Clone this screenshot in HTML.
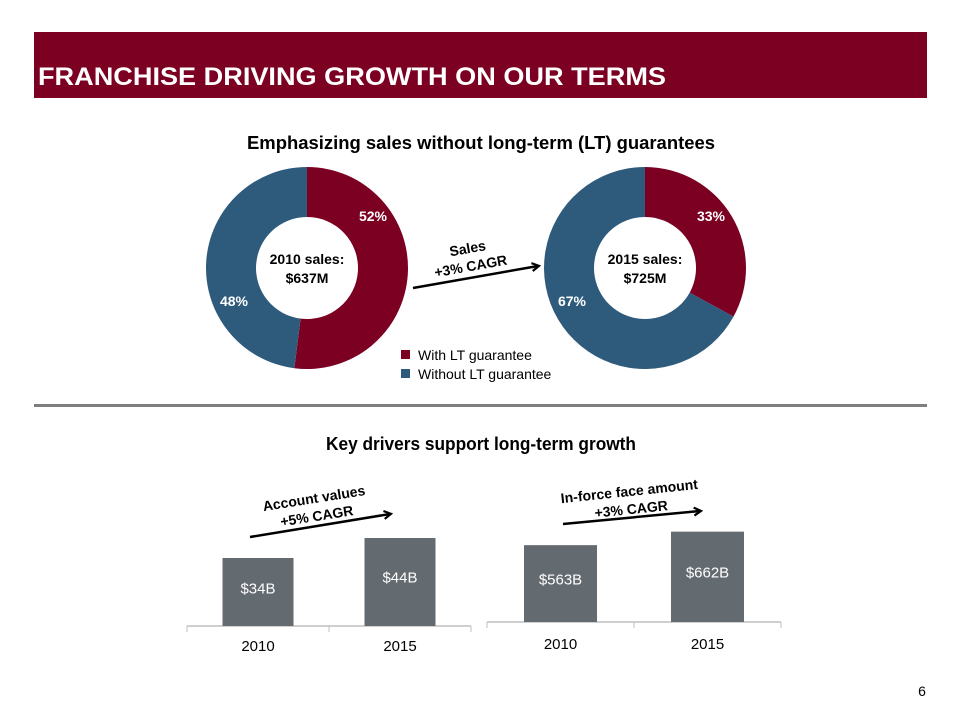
<!DOCTYPE html>
<html><head><meta charset="utf-8"><style>
html,body{margin:0;padding:0;background:#fff;}
svg{display:block;font-family:"Liberation Sans",sans-serif;}
</style></head><body>
<svg id="s" width="960" height="720" viewBox="0 0 960 720">
<defs><marker id="ah" markerWidth="10" markerHeight="10" refX="7" refY="5" orient="auto" markerUnits="userSpaceOnUse"><path d="M1,1 L8,5 L1,9" fill="none" stroke="#000" stroke-width="2.2"/></marker></defs>
<rect x="34" y="32" width="893" height="66" fill="#7b0022"/>
<text x="38" y="85" fill="#fff" font-size="25" font-weight="bold" textLength="628" lengthAdjust="spacingAndGlyphs">FRANCHISE DRIVING GROWTH ON OUR TERMS</text>
<text x="481" y="149" text-anchor="middle" font-size="18" font-weight="bold" fill="#000" textLength="468" lengthAdjust="spacingAndGlyphs">Emphasizing sales without long-term (LT) guarantees</text>
<g id="donuts"></g>
<line x1="413" y1="288" x2="538" y2="266" stroke="#000" stroke-width="2.5" marker-end="url(#ah)"/>
<g transform="rotate(-10 470 262)">
<text x="470" y="253" text-anchor="middle" font-size="14" font-weight="bold">Sales</text>
<text x="470" y="271" text-anchor="middle" font-size="14" font-weight="bold">+3% CAGR</text>
</g>
<rect x="401" y="350" width="9" height="9" fill="#7b0022"/>
<text x="418" y="360" font-size="14" fill="#000">With LT guarantee</text>
<rect x="401" y="369" width="9" height="9" fill="#2e5a7c"/>
<text x="418" y="379" font-size="14" fill="#000">Without LT guarantee</text>
<rect x="34" y="404" width="893" height="3" fill="#7f7f7f"/>
<text x="481" y="450" text-anchor="middle" font-size="18" font-weight="bold" fill="#000" textLength="310" lengthAdjust="spacingAndGlyphs">Key drivers support long-term growth</text>
<g id="bars"></g>
<line x1="250" y1="537" x2="390" y2="514" stroke="#000" stroke-width="2.5" marker-end="url(#ah)"/>
<g transform="rotate(-9 315 505)">
<text x="315" y="503" text-anchor="middle" font-size="14" font-weight="bold">Account values</text>
<text x="315" y="521" text-anchor="middle" font-size="14" font-weight="bold">+5% CAGR</text>
</g>
<line x1="563" y1="524" x2="700" y2="511" stroke="#000" stroke-width="2.5" marker-end="url(#ah)"/>
<g transform="rotate(-6 630 498)">
<text x="630" y="496" text-anchor="middle" font-size="14" font-weight="bold">In-force face amount</text>
<text x="630" y="514" text-anchor="middle" font-size="14" font-weight="bold">+3% CAGR</text>
</g>
<text x="922" y="696" text-anchor="middle" font-size="14" fill="#000">6</text>
</svg>
<script>
const donutYears=['2010','2015'];
const donutTotals=['$637M','$725M'];
const withLT=[52,33];
const withoutLT=[48,67];
const barCats=['2010','2015'];
const accountValues=[34,44];
const accountLabels=['$34B','$44B'];
const inforceValues=[563,662];
const inforceLabels=['$563B','$662B'];

const NS='http://www.w3.org/2000/svg';
function mk(tag,attrs,parent){const e=document.createElementNS(NS,tag);for(const k in attrs)e.setAttribute(k,attrs[k]);parent.appendChild(e);return e;}
function arc(cx,cy,R,r,a0,a1){
  const p=(a,rad)=>[cx+rad*Math.sin(a),cy-rad*Math.cos(a)];
  const large=(a1-a0)>Math.PI?1:0;
  const [x0,y0]=p(a0,R),[x1,y1]=p(a1,R),[x2,y2]=p(a1,r),[x3,y3]=p(a0,r);
  return `M${x0},${y0} A${R},${R} 0 ${large} 1 ${x1},${y1} L${x2},${y2} A${r},${r} 0 ${large} 0 ${x3},${y3} Z`;
}
const dg=document.getElementById('donuts');
const centers=[307,645];
donutYears.forEach((yr,i)=>{
  const cx=centers[i],cy=268,R=101,r=51;
  const tot=withLT[i]+withoutLT[i];
  const a1=2*Math.PI*withLT[i]/tot;
  const p1=mk('path',{d:arc(cx,cy,R,r,0,a1),fill:'#7b0022'},dg);
  
  
  const p2=mk('path',{d:arc(cx,cy,R,r,a1,2*Math.PI-0.0001),fill:'#2e5a7c'},dg);
  
  
  const t1=mk('text',{x:cx+66,y:cy-47,'text-anchor':'middle','font-size':14,'font-weight':'bold',fill:'#fff'},dg);
  t1.textContent=withLT[i]+'%';
  
  
  const t2=mk('text',{x:cx-73,y:cy+38,'text-anchor':'middle','font-size':14,'font-weight':'bold',fill:'#fff'},dg);
  t2.textContent=withoutLT[i]+'%';
  
  
  const c1=mk('text',{x:cx,y:cy-4,'text-anchor':'middle','font-size':14,'font-weight':'bold',fill:'#000'},dg);
  c1.textContent=yr+' sales:';
  
  
  const c2=mk('text',{x:cx,y:cy+15,'text-anchor':'middle','font-size':14,'font-weight':'bold',fill:'#000'},dg);
  c2.textContent=donutTotals[i];
  
  
});
const bg=document.getElementById('bars');
function barChart(name,vals,labels,x0,x1,base,scale,labelY,bw){
  const ax=mk('line',{x1:x0,x2:x1,y1:base,y2:base,stroke:'#bfbfbf','stroke-width':1.5},bg);
  
  
  const slot=(x1-x0)/vals.length;
  [x0,(x0+x1)/2,x1].forEach(tx=>{mk('line',{x1:tx,x2:tx,y1:base,y2:base+6,stroke:'#bfbfbf','stroke-width':1},bg);});
  vals.forEach((v,i)=>{
    const cx=x0+slot*(i+0.5),h=v*scale;
    const r=mk('rect',{x:cx-bw/2,y:base-h,width:bw,height:h,fill:'#636a70'},bg);
    
    
    const t=mk('text',{x:cx,y:base-h*0.55+5,'text-anchor':'middle','font-size':15,fill:'#fff'},bg);
    t.textContent=labels[i];
    
    
    const c=mk('text',{x:cx,y:labelY,'text-anchor':'middle','font-size':15,fill:'#000'},bg);
    c.textContent=barCats[i];
    
    
  });
}
barChart('account-values',accountValues,accountLabels,187,471,626,2.0,651,71);
barChart('inforce-face',inforceValues,inforceLabels,487,781,622,0.1365,649,73);
</script>
</body></html>
